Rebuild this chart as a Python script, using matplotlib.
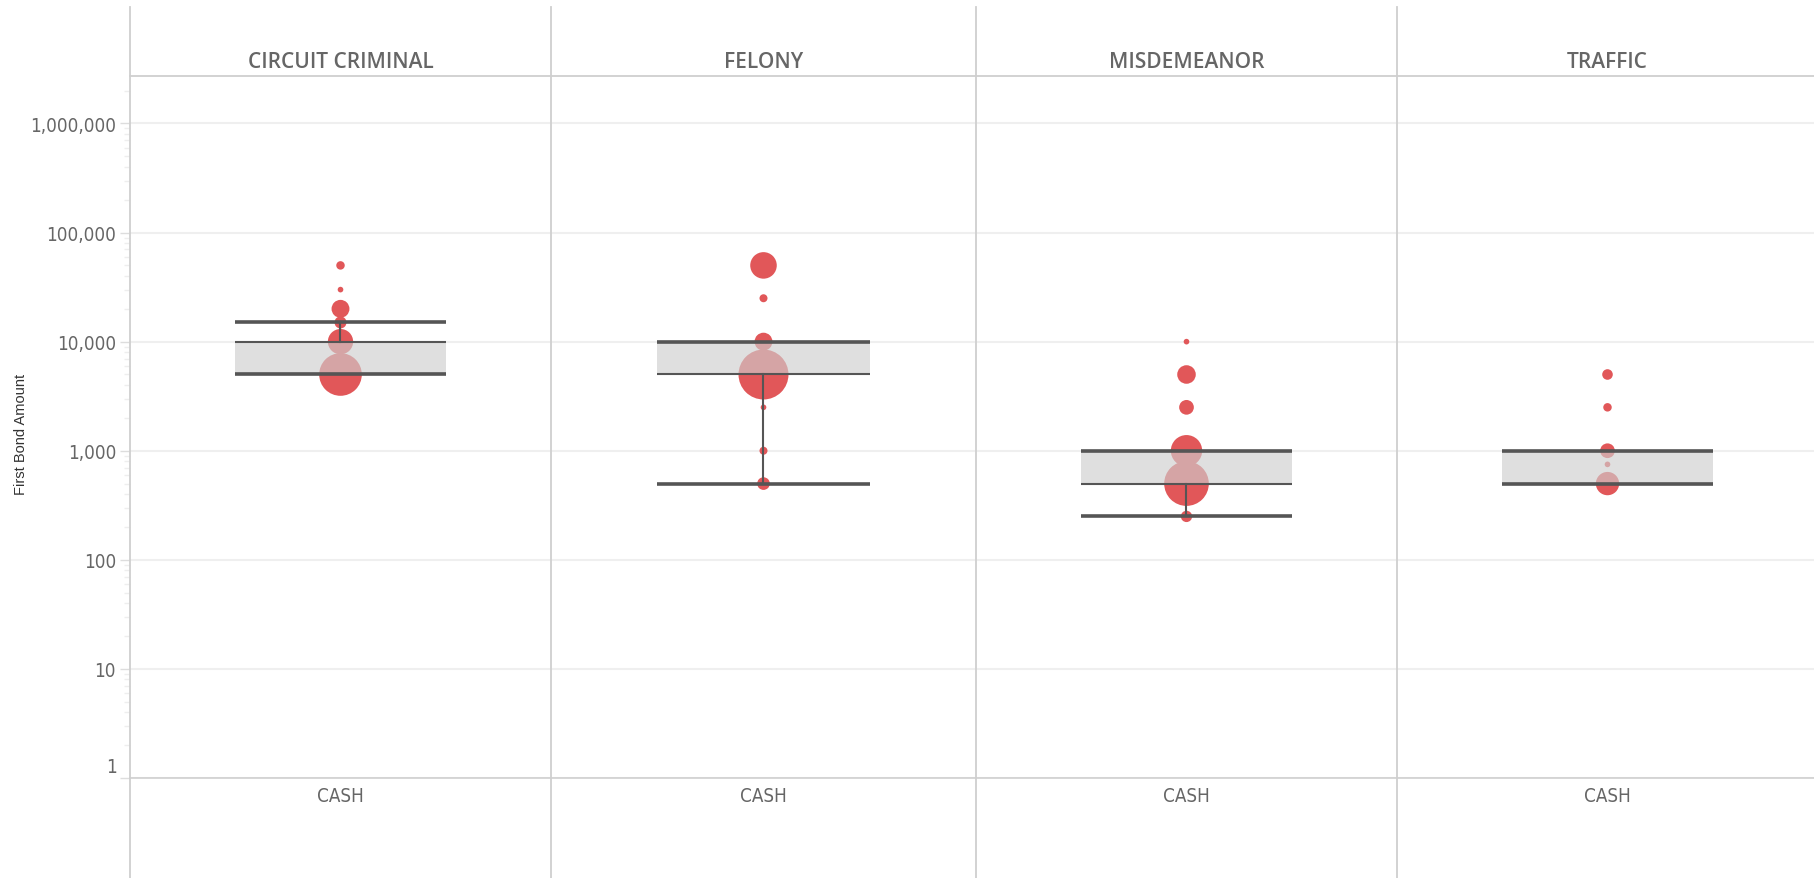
import matplotlib
matplotlib.use("Agg")
import matplotlib.pyplot as plt
import matplotlib.ticker as ticker
from matplotlib.lines import Line2D
import numpy as np

# data
categories = ["CIRCUIT CRIMINAL", "FELONY", "MISDEMEANOR", "TRAFFIC"]
bond_type = "CASH"

# first bond amounts and the number of cases at each amount (circle size)
amounts = [
    [50000, 30000, 20000, 15000, 10000, 5000],
    [50000, 25000, 10000, 5000, 2500, 1000, 500],
    [10000, 5000, 2500, 1000, 500, 250],
    [5000, 2500, 1000, 750, 500],
]
counts = [
    [9, 4, 40, 18, 80, 227],
    [88, 8, 40, 312, 4, 8, 20],
    [4, 43, 27, 123, 249, 16],
    [14, 9, 27, 4, 68],
]

# box plot stats: lower whisker, q1, q3, upper whisker
whisker_low = [5000, 500, 250, 500]
q1 = [5000, 5000, 500, 500]
q3 = [10000, 10000, 1000, 1000]
whisker_high = [15000, 10000, 1000, 1000]

RED = "#e15759"
GRID = "#efefef"
FRAME = "#cfcfcf"
DARK = "#555555"
TXT = "#666666"

W, H = 1815, 879
fig = plt.figure(figsize=(W / 100, H / 100), dpi=100)

top_px, bot_px = 76.7, 779
edges = [130, 551, 976, 1397, 1818]
ymax = 10 ** 6.438

# narrow face for tick labels
tick_kw = dict(family="DejaVu Sans", stretch="condensed")


def fmt_amount(v, pos):
    # the bottom "1" is drawn separately, a bit above the axis line
    if v < 5:
        return ""
    return f"{v:,.0f}"


axes = []
for i, cat in enumerate(categories):
    x0, x1 = edges[i], edges[i + 1]
    ax = fig.add_axes([x0 / W, (H - bot_px) / H, (x1 - x0) / W, (bot_px - top_px) / H])
    axes.append(ax)
    ax.set_yscale("log")
    ax.set_ylim(1, ymax)
    ax.set_xlim(-1, 1)
    for s in ["top", "right", "left"]:
        ax.spines[s].set_visible(False)
    ax.spines["bottom"].set_color(FRAME)
    ax.spines["bottom"].set_linewidth(1.2)
    ax.set_xticks([])
    ax.yaxis.grid(True, which="major", color=GRID, linewidth=1.5)
    ax.set_axisbelow(True)

    # circles
    sizes = np.array(counts[i]) * 4.15
    ax.scatter(np.zeros(len(amounts[i])), amounts[i], s=sizes, color=RED,
               linewidths=0, zorder=2)

    # box
    hw = 0.5
    ax.fill_between([-hw, hw], q1[i], q3[i], color="#cfcfcf", alpha=0.65,
                    linewidth=0, zorder=3)
    ax.plot([-hw, hw], [q1[i], q1[i]], color=DARK, lw=1.5, zorder=4,
            solid_capstyle="butt")
    ax.plot([-hw, hw], [q3[i], q3[i]], color=DARK, lw=1.5, zorder=4,
            solid_capstyle="butt")
    # whiskers
    if whisker_high[i] > q3[i]:
        ax.plot([0, 0], [q3[i], whisker_high[i]], color=DARK, lw=1.5, zorder=4)
    if whisker_low[i] < q1[i]:
        ax.plot([0, 0], [whisker_low[i], q1[i]], color=DARK, lw=1.5, zorder=4)
    ax.plot([-hw, hw], [whisker_high[i]] * 2, color=DARK, lw=2.6, zorder=4,
            solid_capstyle="butt")
    ax.plot([-hw, hw], [whisker_low[i]] * 2, color=DARK, lw=2.6, zorder=4,
            solid_capstyle="butt")

    # panel title and category label
    fig.text((x0 + x1) / 2 / W, (H - 62) / H, cat, ha="center", va="center",
             fontsize=15, color=TXT, family="Open Sans", fontweight="semibold")
    fig.text((x0 + x1) / 2 / W, (H - 797) / H, bond_type, ha="center", va="center",
             fontsize=13.5, color=TXT, **tick_kw)

    if i == 0:
        ax.yaxis.set_major_locator(ticker.LogLocator(base=10, numticks=10))
        ax.yaxis.set_minor_locator(ticker.LogLocator(base=10, subs=np.arange(2, 10), numticks=20))
        ax.yaxis.set_major_formatter(ticker.FuncFormatter(fmt_amount))
        ax.yaxis.set_minor_formatter(ticker.NullFormatter())
        ax.tick_params(axis="y", which="major", length=7, width=1, color="#dddddd",
                       labelcolor=TXT, labelsize=13.5, pad=3)
        ax.tick_params(axis="y", which="minor", length=4, width=1, color="#eeeeee")
        for lab in ax.get_yticklabels():
            lab.set_family(tick_kw["family"])
            lab.set_stretch(tick_kw["stretch"])
        fig.text((edges[0] - 13) / W, (H - 768) / H, "1", ha="right", va="center",
                 fontsize=13.5, color=TXT, **tick_kw)
    else:
        ax.tick_params(axis="y", which="both", left=False, labelleft=False)

# frame lines: panel separators and header rule
for xp in edges[:4]:
    fig.add_artist(Line2D([xp / W, xp / W], [0, (H - 8) / H], color=FRAME, lw=1.3))
fig.add_artist(Line2D([edges[0] / W, 1], [(H - top_px) / H] * 2, color=FRAME, lw=1.3))

fig.text(21 / W, (H - 434) / H, "First Bond Amount", rotation=90, ha="center",
         va="center", fontsize=10.5, color="#333333", family="Liberation Sans")

fig.savefig("out.png", dpi=100, facecolor="white")
